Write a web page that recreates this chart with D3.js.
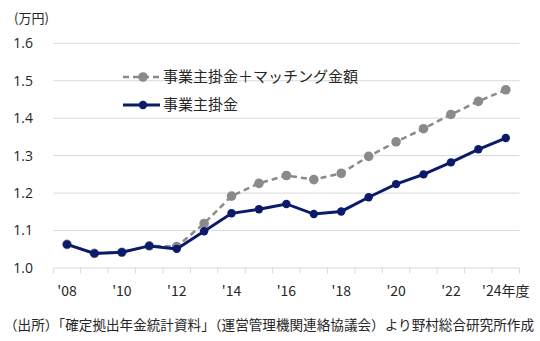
<!DOCTYPE html>
<html><head><meta charset="utf-8">
<script src="https://cdn.jsdelivr.net/npm/d3@7"></script>
<style>
body{margin:0;background:#fff;}
text{font-family:"Noto Sans CJK JP","Noto Sans",sans-serif;fill:#262626;}
</style></head>
<body><svg id="c" width="540" height="341"></svg>
<script>
const years = [2008,2009,2010,2011,2012,2013,2014,2015,2016,2017,2018,2019,2020,2021,2022,2023,2024];
const employer = [1.063,1.039,1.042,1.059,1.051,1.098,1.146,1.157,1.171,1.144,1.151,1.189,1.224,1.250,1.282,1.317,1.347];
const employerMatching = [1.063,1.039,1.042,1.059,1.057,1.119,1.192,1.226,1.247,1.236,1.253,1.298,1.337,1.372,1.410,1.445,1.476];
const yTicks = [1.0,1.1,1.2,1.3,1.4,1.5,1.6];
const xLabels = {2008:"'08",2010:"'10",2012:"'12",2014:"'14",2016:"'16",2018:"'18",2020:"'20",2022:"'22",2024:"'24年度"};
const seriesNames = ["事業主掛金＋マッチング金額","事業主掛金"];
const unitLabel = "(万円)";
const sourceText = "（出所）「確定拠出年金統計資料」（運営管理機関連絡協議会）より野村総合研究所作成";

const svg = d3.select("#c");
const x = d3.scaleBand().domain(years).range([53.3,519.5]);
const y = d3.scaleLinear().domain([1.0,1.6]).range([268,43.3]);
const cx = d => x(d) + x.bandwidth()/2;

// gridlines
svg.append("g").selectAll("line").data(yTicks).join("line")
  .attr("x1",53.3).attr("x2",519.5).attr("y1",d=>y(d)).attr("y2",d=>y(d))
  .attr("stroke","#d9d9d9").attr("stroke-width",1);
// y labels
svg.append("g").selectAll("text").data(yTicks).join("text")
  .attr("x",33).attr("y",d=>y(d)).attr("dy","0.35em").attr("text-anchor","end")
  .style("font-family","'Open Sans','Noto Sans',sans-serif")
  .attr("font-size",14).text(d=>d.toFixed(1));
// x ticks
const ticks = years.map(d=>x(d)).concat([x(years[years.length-1])+x.bandwidth()]);
svg.append("g").selectAll("line").data(ticks).join("line")
  .attr("x1",d=>d).attr("x2",d=>d).attr("y1",268).attr("y2",273.5)
  .attr("stroke","#d9d9d9");
svg.append("g").selectAll("text").data(years.filter(d=>xLabels[d])).join("text")
  .attr("x",cx).attr("y",291).attr("dy","0.35em").attr("text-anchor","middle")
  .attr("font-size",14).text(d=>xLabels[d]);

svg.append("text").attr("x",14).attr("y",18).attr("dy","0.35em").attr("font-size",13).text(unitLabel);

const line = d3.line().x((d,i)=>cx(years[i])).y(d=>y(d));
const gray = "#8a8a8a", navy = "#0c1a6b";
// gray series
svg.append("path").datum(employerMatching).attr("d",line).attr("fill","none")
  .attr("stroke",gray).attr("stroke-width",2.5).attr("stroke-dasharray","6,4");
svg.append("g").selectAll("circle").data(employerMatching).join("circle")
  .attr("cx",(d,i)=>cx(years[i])).attr("cy",d=>y(d)).attr("r",4.8).attr("fill",gray);
// navy series
svg.append("path").datum(employer).attr("d",line).attr("fill","none")
  .attr("stroke",navy).attr("stroke-width",3);
svg.append("g").selectAll("circle").data(employer).join("circle")
  .attr("cx",(d,i)=>cx(years[i])).attr("cy",d=>y(d)).attr("r",4.2).attr("fill",navy);

// legend
const lg = svg.append("g");
lg.append("line").attr("x1",123).attr("x2",160).attr("y1",77).attr("y2",77)
  .attr("stroke",gray).attr("stroke-width",2.5).attr("stroke-dasharray","6,4");
lg.append("circle").attr("cx",143).attr("cy",77).attr("r",4.8).attr("fill",gray);
lg.append("text").attr("x",163).attr("y",77).attr("dy","0.35em").attr("font-size",15).text(seriesNames[0]);
lg.append("line").attr("x1",123).attr("x2",160).attr("y1",105).attr("y2",105)
  .attr("stroke",navy).attr("stroke-width",3);
lg.append("circle").attr("cx",143).attr("cy",105).attr("r",4.2).attr("fill",navy);
lg.append("text").attr("x",163).attr("y",105).attr("dy","0.35em").attr("font-size",15).text(seriesNames[1]);

svg.append("text").attr("x",4).attr("y",325).attr("dy","0.35em").attr("font-size",13.5)
  .attr("textLength",530).attr("lengthAdjust","spacingAndGlyphs").text(sourceText);
</script></body></html>
